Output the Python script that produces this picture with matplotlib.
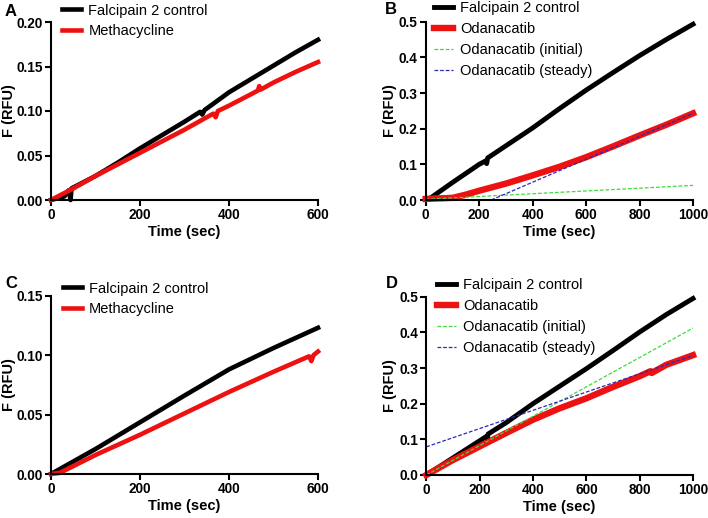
import numpy as np
import matplotlib
matplotlib.use("Agg")
import matplotlib.pyplot as plt

plt.rcParams['font.family'] = ['Liberation Sans', 'DejaVu Sans']

# ---- data ----
# Panel A
tA_ctrl = [0, 30, 40, 44, 46, 100, 150, 200, 250, 300, 335, 340, 345, 400, 450, 500, 550, 600]
fA_ctrl = [0.0, 0.004, 0.011, 0.0, 0.013, 0.027, 0.042, 0.058, 0.073, 0.088, 0.099, 0.096, 0.101,
           0.121, 0.136, 0.151, 0.166, 0.180]
tA_meth = [0, 50, 100, 150, 200, 250, 300, 350, 365, 370, 375, 400, 450, 465, 468, 471, 500, 550, 600]
fA_meth = [0.0, 0.013, 0.027, 0.040, 0.053, 0.066, 0.079, 0.093, 0.097, 0.093, 0.100, 0.106,
           0.119, 0.123, 0.128, 0.124, 0.132, 0.144, 0.155]

# Panel B
tB_ctrl = [0, 15, 100, 200, 225, 228, 232, 300, 400, 500, 600, 700, 800, 900, 1000]
fB_ctrl = [0.002, 0.004, 0.049, 0.100, 0.110, 0.102, 0.118, 0.152, 0.202, 0.256, 0.308, 0.357,
           0.405, 0.450, 0.493]
tB_odn = [0, 100, 150, 200, 300, 400, 500, 600, 700, 800, 900, 1000]
fB_odn = [0.003, 0.006, 0.015, 0.026, 0.046, 0.069, 0.093, 0.120, 0.150, 0.181, 0.211, 0.243]
tB_init = [0, 1000]
fB_init = [0.002, 0.041]
tB_steady = [245, 1000]
fB_steady = [0.0, 0.243]

# Panel C
tC_ctrl = [0, 100, 200, 300, 400, 500, 600]
fC_ctrl = [0.0, 0.021, 0.0435, 0.066, 0.088, 0.106, 0.123]
tC_meth = [0, 20, 100, 200, 300, 400, 500, 580, 585, 590, 600]
fC_meth = [0.0, 0.001, 0.016, 0.033, 0.051, 0.069, 0.086, 0.099, 0.095, 0.100, 0.103]

# Panel D
tD_ctrl = [0, 100, 200, 225, 228, 232, 300, 400, 500, 600, 700, 800, 900, 1000]
fD_ctrl = [0.0, 0.048, 0.096, 0.108, 0.100, 0.115, 0.147, 0.200, 0.249, 0.298, 0.349, 0.401,
           0.450, 0.495]
tD_odn = [0, 100, 200, 300, 400, 500, 600, 700, 800, 840, 845, 900, 1000]
fD_odn = [0.0, 0.042, 0.080, 0.118, 0.155, 0.187, 0.215, 0.247, 0.277, 0.291, 0.286, 0.309, 0.336]
tD_init = [0, 1000]
fD_init = [0.0, 0.412]
tD_steady = [0, 1000]
fD_steady = [0.079, 0.335]

W, H = 708, 518
fig = plt.figure(figsize=(W / 100, H / 100), dpi=100)


def px_axes(left, right, top, bottom):
    ax = fig.add_axes([left / W, 1 - bottom / H, (right - left) / W, (bottom - top) / H])
    ax.px = (left, right, top, bottom)
    return ax


def style(ax, xmax, ymax, yticks, yfmt, ylab_x):
    ax.set_xlim(0, xmax)
    ax.set_ylim(0, ymax)
    ax.set_xticks(np.arange(0, xmax + 1, 200))
    ax.set_yticks(yticks)
    ax.set_yticklabels([yfmt.format(v) for v in yticks])
    for s in ['top', 'right']:
        ax.spines[s].set_visible(False)
    for s in ['left', 'bottom']:
        ax.spines[s].set_linewidth(1.5)
    ax.tick_params(direction='out', length=4, width=1.5, pad=2, labelsize=9.8)
    for lab in ax.get_xticklabels() + ax.get_yticklabels():
        lab.set_fontweight('bold')
    left, right, top, bottom = ax.px
    ax.set_xlabel('Time (sec)', fontsize=10.5, fontweight='bold')
    ax.set_ylabel('F (RFU)', fontsize=10.5, fontweight='bold')
    # xlabel anchored at its top, ylabel at its right edge
    ax.xaxis.set_label_coords(0.5, -25 / (bottom - top))
    ax.yaxis.set_label_coords((ylab_x - left) / (right - left), 0.5)


def legend(ax, x, y):
    ax.legend(loc='upper left', bbox_to_anchor=(x / W, 1 - y / H), bbox_transform=fig.transFigure,
              frameon=False, fontsize=10.5, handlelength=1.3, handletextpad=0.5,
              labelspacing=0.48, borderpad=0, borderaxespad=0)


green = '#3ddc3d'
blue = '#2a2ab8'
red = '#ee1111'

axA = px_axes(51, 318, 22, 200)
axA.plot(tA_ctrl, fA_ctrl, color='black', lw=3.3, label='Falcipain 2 control', clip_on=False)
axA.plot(tA_meth, fA_meth, color=red, lw=3.3, label='Methacycline', clip_on=False)
style(axA, 600, 0.20, [0, 0.05, 0.10, 0.15, 0.20], '{:.2f}', 16)
legend(axA, 62, 3.5)

axB = px_axes(425.7, 693, 21.7, 200)
axB.plot(tB_ctrl, fB_ctrl, color='black', lw=3.5, label='Falcipain 2 control', clip_on=False)
axB.plot(tB_odn, fB_odn, color=red, lw=4.6, label='Odanacatib', clip_on=False)
axB.plot(tB_init, fB_init, color=green, lw=0.9, ls=(0, (3, 1.5)), label='Odanacatib (initial)')
axB.plot(tB_steady, fB_steady, color=blue, lw=0.9, ls=(0, (3, 1.5)), label='Odanacatib (steady)')
style(axB, 1000, 0.5, [0, 0.1, 0.2, 0.3, 0.4, 0.5], '{:.1f}', 397)
legend(axB, 434, 0.8)

axC = px_axes(51, 318, 295.7, 474)
axC.plot(tC_ctrl, fC_ctrl, color='black', lw=3.3, label='Falcipain 2 control', clip_on=False)
axC.plot(tC_meth, fC_meth, color=red, lw=3.3, label='Methacycline', clip_on=False)
style(axC, 600, 0.15, [0, 0.05, 0.10, 0.15], '{:.2f}', 16)
legend(axC, 63, 281.5)

axD = px_axes(426.3, 693, 296.7, 475)
axD.plot(tD_ctrl, fD_ctrl, color='black', lw=3.5, label='Falcipain 2 control', clip_on=False)
axD.plot(tD_odn, fD_odn, color=red, lw=4.6, label='Odanacatib', clip_on=False)
axD.plot(tD_init, fD_init, color=green, lw=0.9, ls=(0, (3, 1.5)), label='Odanacatib (initial)')
axD.plot(tD_steady, fD_steady, color=blue, lw=0.9, ls=(0, (3, 1.5)), label='Odanacatib (steady)')
style(axD, 1000, 0.5, [0, 0.1, 0.2, 0.3, 0.4, 0.5], '{:.1f}', 397)
legend(axD, 437, 278)

for letter, x, y in [('A', 5, 12), ('B', 385, 10), ('C', 5, 284), ('D', 386, 284)]:
    fig.text(x / W, 1 - y / H, letter, fontsize=12, fontweight='bold', va='center', ha='left')

fig.savefig('out.png', dpi=100)
